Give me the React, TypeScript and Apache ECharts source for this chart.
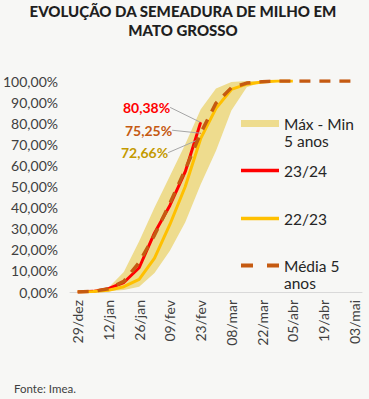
import React, { useEffect, useRef } from "react";
import * as echarts from "echarts";

const categories = [
  "29/dez", "05/jan", "12/jan", "19/jan", "26/jan", "02/fev", "09/fev", "16/fev", "23/fev",
  "01/mar", "08/mar", "15/mar", "22/mar", "29/mar", "05/abr", "12/abr", "19/abr", "26/abr", "03/mai",
];

// Máx - Min 5 anos (band)
const bandMax = [0, 0.5, 2, 9.5, 24, 40, 55, 70, 86.5, 96.5, 99.5, 100, 100, 100, 100, 100, 100, 100, 100];
const bandMin = [0, 0, 0.3, 1, 2.5, 9, 19.5, 33, 51, 67, 86, 97, 99.5, 100, 100, 100, 100, 100, 100];
// 23/24
const safra2324 = [0, 0.3, 1.6, 4.5, 11.5, 28, 41, 57, 80.38];
// 22/23
const safra2223 = [0, 0.2, 0.8, 2.5, 6, 16, 32, 50, 72.66, 87, 96, 98.5, 99.5, 100, 100];
// Média 5 anos
const media5 = [0, 0.3, 1.5, 5, 14, 27, 42, 58, 75.25, 89.5, 96.8, 99, 99.7, 100, 100, 100, 100, 100, 100];

const yTicks = { min: 0, max: 100, interval: 10 };

const BAND_NAME = "Máx - Min\n5 anos";
const RED_NAME = "23/24";
const YEL_NAME = "22/23";
const MED_NAME = "Média 5\nanos";

const FONT = "Lato";
const BG = "#f7f7f5";
const BAND_COLOR = "#eedc8e";

const fmtPct = (v: number) => v.toFixed(2).replace(".", ",") + "%";

function withEndLabel(arr: number[], color: string) {
  return arr.map((v, i) =>
    i === 8
      ? {
          value: v,
          symbol: "circle",
          symbolSize: 1,
          label: {
            show: true,
            position: "left",
            distance: 5,
            formatter: fmtPct(v),
            color,
            fontFamily: FONT,
            fontWeight: "bold",
            fontSize: 14,
          },
        }
      : v
  );
}

export default function App() {
  const ref = useRef<HTMLDivElement>(null);
  useEffect(() => {
    document.body.style.margin = "0";
    document.body.style.background = BG;
    const chart = echarts.init(ref.current!, null, { renderer: "svg" });
    const bandDiff = bandMax.map((v, i) => v - bandMin[i]);
    const legendText = { fontFamily: FONT, fontSize: 15.5, color: "#262626", lineHeight: 17 };
    const legendBase = {
      orient: "vertical",
      left: 241,
      padding: 0,
      itemWidth: 38,
      itemGap: 0,
      selectedMode: false,
      textStyle: legendText,
    };
    const guide = { show: true, lineStyle: { color: "#a6a6a6", width: 1 } };
    chart.setOption({
      animation: false,
      backgroundColor: BG,
      textStyle: { fontFamily: FONT },
      title: [
        {
          text: "EVOLUÇÃO DA SEMEADURA DE MILHO EM\nMATO GROSSO",
          left: 183,
          top: 1,
          padding: 0,
          textAlign: "center",
          textStyle: {
            fontFamily: FONT,
            fontWeight: 900,
            fontSize: 15,
            lineHeight: 19,
            color: "#1f1f1f",
          },
        },
        {
          text: "Fonte: Imea.",
          left: 14,
          top: 382,
          padding: 0,
          textStyle: { fontFamily: FONT, fontWeight: "normal", fontSize: 11.5, color: "#404040" },
        },
      ],
      legend: [
        {
          ...legendBase,
          top: 98,
          itemHeight: 7,
          formatter: "\n{name}",
          data: [{ name: BAND_NAME, icon: "rect", itemStyle: { color: BAND_COLOR } }],
        },
        {
          ...legendBase,
          top: 162,
          itemHeight: 3.5,
          data: [{ name: RED_NAME, icon: "rect", itemStyle: { color: "#ff0000" } }],
        },
        {
          ...legendBase,
          top: 210,
          itemHeight: 3.5,
          data: [{ name: YEL_NAME, icon: "rect", itemStyle: { color: "#ffc000" } }],
        },
        {
          ...legendBase,
          top: 240,
          itemHeight: 4,
          formatter: "\n{name}",
          data: [
            {
              name: MED_NAME,
              icon: "path://M0,0h12v4h-12z M26,0h12v4h-12z",
              itemStyle: { color: "#c55a11" },
            },
          ],
        },
      ],
      grid: { left: 70, right: 7, top: 81, bottom: 107, containLabel: false },
      xAxis: {
        type: "category",
        data: categories,
        boundaryGap: true,
        axisLine: { lineStyle: { color: "#d9d9d9", width: 1 } },
        axisTick: { show: false },
        axisLabel: {
          interval: 1,
          rotate: 90,
          margin: 8,
          fontFamily: FONT,
          fontSize: 14,
          color: "#404040",
        },
      },
      yAxis: {
        type: "value",
        ...yTicks,
        axisLine: { show: false },
        axisTick: { show: false },
        splitLine: { show: false },
        axisLabel: {
          formatter: (v: number) => fmtPct(v),
          fontFamily: FONT,
          fontSize: 14,
          color: "#404040",
          margin: 12,
        },
      },
      series: [
        {
          name: "min",
          type: "line",
          stack: "band",
          data: bandMin,
          symbol: "none",
          lineStyle: { opacity: 0, width: 0 },
          silent: true,
          z: 1,
        },
        {
          name: BAND_NAME,
          type: "line",
          stack: "band",
          data: bandDiff,
          symbol: "none",
          lineStyle: { opacity: 0, width: 0 },
          itemStyle: { color: BAND_COLOR },
          areaStyle: { color: BAND_COLOR, opacity: 1 },
          silent: true,
          z: 1,
        },
        {
          name: RED_NAME,
          type: "line",
          data: withEndLabel(safra2324, "#ff0000"),
          symbol: "none",
          showAllSymbol: true,
          itemStyle: { color: "#ff0000" },
          lineStyle: { color: "#ff0000", width: 3 },
          labelLayout: { dx: -25, dy: -15 },
          labelLine: guide,
          z: 3,
        },
        {
          name: YEL_NAME,
          type: "line",
          data: withEndLabel(safra2223, "#c49a00"),
          symbol: "none",
          showAllSymbol: true,
          itemStyle: { color: "#ffc000" },
          lineStyle: { color: "#ffc000", width: 3 },
          labelLayout: { dx: -27, dy: 14 },
          labelLine: guide,
          z: 3,
        },
        {
          name: MED_NAME,
          type: "line",
          data: withEndLabel(media5, "#c55a11"),
          symbol: "none",
          showAllSymbol: true,
          itemStyle: { color: "#c55a11" },
          lineStyle: { color: "#c55a11", width: 3.5, type: [11, 9] },
          labelLayout: { dx: -23, dy: -3 },
          labelLine: guide,
          z: 4,
        },
      ],
    });
    return () => chart.dispose();
  }, []);
  return <div ref={ref} style={{ width: 369, height: 399, background: BG }} />;
}
